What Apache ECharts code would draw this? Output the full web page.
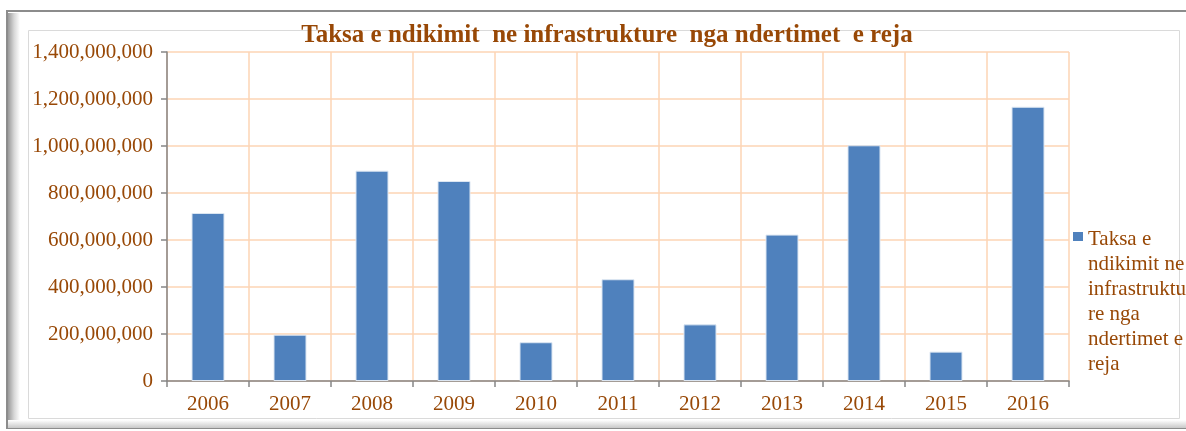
<!DOCTYPE html>
<html>
<head>
<meta charset="utf-8">
<script src="https://cdn.jsdelivr.net/npm/echarts@6/dist/echarts.min.js"></script>
<style>
  html, body { margin: 0; padding: 0; background: #fff; }
  #main { width: 1186px; height: 431px; }
</style>
</head>
<body>
<div id="main"></div>
<script>
// te dhenat e grafikut
var years = ['2006', '2007', '2008', '2009', '2010', '2011', '2012', '2013', '2014', '2015', '2016'];
var taksaValues = [715000000, 197000000, 895000000, 851000000, 165000000, 433000000, 241000000, 623000000, 1003000000, 125000000, 1167000000];
var seriesName = 'Taksa e ndikimit ne infrastrukture nga ndertimet e reja';
var legendLines = ['Taksa e', 'ndikimit ne', 'infrastruktu', 're nga', 'ndertimet e', 'reja'];
var titleText = 'Taksa e ndikimit  ne infrastrukture  nga ndertimet  e reja';

var brown = '#984806';
var gridColor = '#FCD5B5';
var axisGray = '#868686';
var fontFam = '"Liberation Serif", "Times New Roman", serif';

// ikona e legjendes: katror lart, kutia e plote sa teksti (6 rreshta x 25px)
var legendIcon = 'path://M0,0L0.01,0M0,5L10,5L10,14L0,14ZM0,150L0.01,150';

var chart = echarts.init(document.getElementById('main'));

var option = {
  animation: false,
  textStyle: { fontFamily: fontFam },
  graphic: [
    // korniza e grafikut
    {
      type: 'rect', z: -10, silent: true,
      shape: { x: 7, y: 11, width: 1190, height: 417 },
      style: { fill: '#fff', stroke: '#8c8c8c', lineWidth: 2 }
    },
    {
      type: 'rect', z: -9, silent: true,
      shape: { x: 8, y: 13, width: 12, height: 414 },
      style: {
        fill: new echarts.graphic.LinearGradient(0, 0, 1, 0, [
          { offset: 0, color: '#9a9a9a' },
          { offset: 0.5, color: '#d6d6d6' },
          { offset: 1, color: '#ffffff' }
        ])
      }
    },
    {
      type: 'rect', z: -9, silent: true,
      shape: { x: 8, y: 420, width: 1178, height: 8 },
      style: {
        fill: new echarts.graphic.LinearGradient(0, 0, 0, 1, [
          { offset: 0, color: '#ffffff' },
          { offset: 1, color: '#c8c8c8' }
        ])
      }
    },
    {
      type: 'rect', z: -8, silent: true,
      shape: { x: 28.5, y: 30.5, width: 1151, height: 388 },
      style: { fill: 'none', stroke: '#dadada', lineWidth: 1 }
    }
  ],
  title: {
    text: titleText,
    left: 602,
    top: 18,
    textAlign: 'center',
    textStyle: { color: brown, fontSize: 25, fontWeight: 'bold', fontFamily: fontFam }
  },
  legend: {
    left: 1073,
    top: 227,
    padding: 0,
    orient: 'vertical',
    icon: legendIcon,
    itemWidth: 10,
    itemHeight: 150,
    itemGap: 0,
    selectedMode: false,
    itemStyle: { borderWidth: 0 },
    formatter: function () { return legendLines.join('\n'); },
    textStyle: {
      color: brown,
      fontSize: 21,
      lineHeight: 25,
      fontFamily: fontFam
    }
  },
  grid: { left: 167, right: 117, top: 52, bottom: 50 },
  xAxis: {
    type: 'category',
    data: years,
    axisLine: { lineStyle: { color: axisGray, width: 1.5 } },
    axisTick: { show: true, length: 6, lineStyle: { color: axisGray, width: 1.5 } },
    splitLine: { show: true, lineStyle: { color: gridColor, width: 1.5 } },
    axisLabel: { color: brown, fontSize: 21, margin: 13, fontFamily: fontFam }
  },
  yAxis: {
    type: 'value',
    min: 0,
    max: 1400000000,
    interval: 200000000,
    axisLine: { show: true, lineStyle: { color: axisGray, width: 1.5 } },
    axisTick: { show: true, length: 6, lineStyle: { color: axisGray, width: 1.5 } },
    splitLine: { show: true, lineStyle: { color: gridColor, width: 1.5 } },
    axisLabel: {
      color: brown, fontSize: 21, margin: 14, fontFamily: fontFam,
      formatter: function (v) { return v.toLocaleString('en-US'); }
    }
  },
  series: [{
    name: seriesName,
    type: 'bar',
    data: taksaValues,
    barWidth: 33,
    itemStyle: { color: '#4F81BD', borderColor: '#DCE6F2', borderWidth: 1 }
  }]
};

chart.setOption(option);
</script>
</body>
</html>
